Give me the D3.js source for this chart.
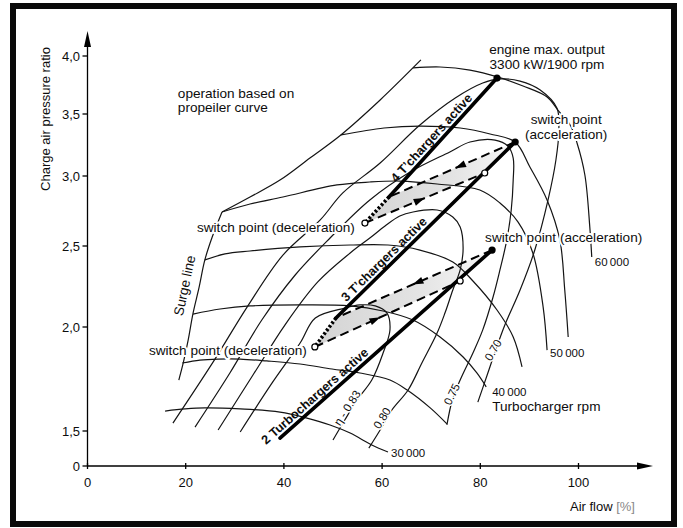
<!DOCTYPE html>
<html>
<head>
<meta charset="utf-8">
<script src="https://cdn.jsdelivr.net/npm/d3@7"></script>
<style>
  html, body { margin: 0; padding: 0; background: #fff; }
  svg { display: block; font-family: "Liberation Sans", Arial, Helvetica, sans-serif; }
</style>
</head>
<body>
<svg id="chart" width="683" height="528"></svg>
<script>
// values: [air flow %, charge air pressure ratio]
const xTicks = [0, 20, 40, 60, 80, 100];
const yTicks = [1.5, 2.0, 2.5, 3.0, 3.5, 4.0];

const speedRpm = [30000, 35000, 40000, 45000, 50000, 55000, 60000];
const speedLabelled = [30000, 40000, 50000, 60000];

const speed30 = [[15.8,1.596],[19.9,1.606],[23.9,1.611],[31.1,1.606],[39.2,1.591],[44.7,1.562],[49.4,1.529],[53.5,1.490],[57.9,1.433],[61.2,1.399]];
const speed35 = [[19.3,1.827],[22.9,1.841],[26.6,1.846],[31.1,1.846],[36.5,1.837],[43.3,1.822],[49.8,1.798],[55.5,1.779],[61.6,1.745],[65.1,1.697],[69.8,1.611],[73.2,1.534]];
const speed40 = [[21.5,2.080],[27.0,2.111],[33.1,2.130],[43.3,2.136],[53.5,2.130],[60.2,2.099],[66.3,2.043],[71.8,1.952],[76.5,1.856],[79.3,1.779],[81.2,1.712]];
const speed45 = [[23.9,2.414],[28.0,2.451],[33.1,2.469],[43.3,2.494],[53.5,2.507],[61.2,2.507],[67.7,2.475],[74.4,2.401],[78.5,2.284],[83.4,2.105],[86.7,1.952],[88.5,1.808]];
const speed50 = [[27.4,2.743],[33.1,2.800],[39.8,2.850],[50.8,2.936],[57.5,2.957],[63.6,2.964],[71.2,2.943],[79.9,2.900],[84.0,2.807],[87.7,2.671],[90.7,2.457],[92.8,2.123],[93.6,1.889]];
const speed55 = [[51.6,3.331],[60.4,3.387],[67.7,3.403],[75.9,3.387],[82.0,3.339],[87.1,3.274],[90.1,3.073],[93.6,2.829],[96.2,2.543],[97.2,2.228],[97.9,1.952]];
const speed60 = [[66.3,3.897],[71.8,3.905],[77.9,3.879],[83.6,3.819],[88.7,3.741],[93.6,3.647],[95.8,3.534],[98.3,3.411],[99.7,3.266],[101.3,3.008],[102.3,2.636],[102.7,2.432]];
const speedLines = [speed30, speed35, speed40, speed45, speed50, speed55, speed60];

const surgeLower = [[18.6,1.745],[19.5,1.827],[20.5,1.937],[21.5,2.086],[22.7,2.241],[23.9,2.414],[25.4,2.564],[27.4,2.743]];
const surgeUpper = [[27.4,2.743],[33.1,2.850],[39.2,2.971],[45.3,3.145],[51.6,3.331],[59.6,3.621],[67.9,3.966]];

const effValues = ["η - 0.83", "0.80", "0.75", "0.70"];
const eff83 = [[50.0,1.457],[52.4,1.553],[54.9,1.649],[57.9,1.745],[60.2,1.875],[61.6,1.986],[61.0,2.086],[58.6,2.130],[55.5,2.136],[52.4,2.117],[46.4,2.056],[43.3,1.923],[37.6,1.731],[31.1,1.495]];
const eff80 = [[57.3,1.418],[59.6,1.505],[62.0,1.601],[65.3,1.697],[68.1,1.827],[71.2,1.971],[72.8,2.086],[74.4,2.228],[75.9,2.352],[76.5,2.488],[75.9,2.636],[74.4,2.707],[71.2,2.757],[66.3,2.743],[63.6,2.714],[60.6,2.643],[57.5,2.557],[53.5,2.457],[46.9,2.278],[40.2,2.012],[33.7,1.769],[26.6,1.505]];
const eff75 = [[73.2,1.529],[74.3,1.649],[75.9,1.745],[78.5,1.875],[80.5,1.986],[82.6,2.185],[84.0,2.352],[85.4,2.543],[86.3,2.757],[86.7,2.971],[86.7,3.145],[85.6,3.242],[83.0,3.290],[77.9,3.274],[73.8,3.194],[65.7,3.032],[57.5,2.829],[49.4,2.557],[42.3,2.321],[35.5,2.043],[29.0,1.779],[21.9,1.519]];
const eff70 = [[79.5,1.639],[81.4,1.769],[83.0,1.880],[85.0,2.012],[88.1,2.228],[91.1,2.475],[93.8,2.829],[95.4,3.129],[96.0,3.371],[95.6,3.552],[92.2,3.707],[88.1,3.784],[84.0,3.802],[80.5,3.767],[74.9,3.638],[67.7,3.411],[59.6,3.105],[52.0,2.879],[47.4,2.686],[39.8,2.444],[32.5,2.123],[25.6,1.832],[17.4,1.538]];
const effLines = [eff83, eff80, eff75, eff70];

// operating points
const maxOutput = [83.4, 3.810];
const accel4 = [87.1, 3.274];
const accel3 = [82.4, 2.475];
const decel4 = [56.5, 2.664];
const decel3 = [46.3, 1.904];
const join4 = [61.4, 2.850];
const join3 = [50.6, 2.056];
const mid4 = [80.9, 3.024];
const mid3 = [75.9, 2.284];
const start2 = [39.2, 1.466];

// ---- layout ----
const svg = d3.select('#chart');
const x = d3.scaleLinear().domain([0, 100]).range([87.5, 578.5]);
const y = d3.scaleLinear().domain(yTicks).range([431, 327, 246, 176, 114, 56]);
const axisY = 466;
const ink = '#141414';
const locale = d3.formatLocale({ decimal: ',', thousands: '\u2009', grouping: [3], currency: ['', ''] });
const fmtTick = locale.format('.1f');
const fmtRpm = locale.format(',');

const px = d => [x(d[0]), y(d[1])];
const smooth = d3.line().x(d => x(d[0])).y(d => y(d[1])).curve(d3.curveCatmullRom.alpha(0.5));
const straight = d3.line().x(d => x(d[0])).y(d => y(d[1]));

// frame
svg.append('rect')
  .attr('x', 13).attr('y', 6).attr('width', 661).attr('height', 518)
  .attr('fill', 'none').attr('stroke', '#0a0a0a').attr('stroke-width', 6);

// grey lenses between the switch paths
const defs = svg.append('defs');
const grad = defs.append('linearGradient').attr('id', 'lens').attr('x1', '0').attr('x2', '1');
grad.append('stop').attr('offset', '0').attr('stop-color', '#d4d4d4');
grad.append('stop').attr('offset', '0.6').attr('stop-color', '#e4e4e4');
grad.append('stop').attr('offset', '1').attr('stop-color', '#f7f7f7');
[[accel4, join4, decel4, mid4], [accel3, join3, decel3, mid3]].forEach(poly => {
  svg.append('path')
    .attr('d', straight(poly) + 'Z')
    .attr('fill', 'url(#lens)');
});

// speed lines, surge line, efficiency contours
const gMap = svg.append('g').attr('fill', 'none').attr('stroke', ink).attr('stroke-width', 1.2);
speedLines.forEach(line => gMap.append('path').attr('d', smooth(line)));
gMap.append('path').attr('d', smooth(surgeLower));
gMap.append('path').attr('d', smooth(surgeUpper));
effLines.forEach(line => gMap.append('path').attr('d', smooth(line)));

// bold operating lines
const gOp = svg.append('g').attr('fill', 'none').attr('stroke', '#000').attr('stroke-linecap', 'round');
gOp.append('path').attr('d', straight([maxOutput, join4])).attr('stroke-width', 3.6);
gOp.append('path').attr('d', straight([accel4, join3])).attr('stroke-width', 3.6);
gOp.append('path').attr('d', straight([accel3, start2])).attr('stroke-width', 3.6);
gOp.append('path').attr('d', straight([join4, decel4])).attr('stroke-width', 3.6).attr('stroke-dasharray', '2.5,2').attr('stroke-linecap', 'butt');
gOp.append('path').attr('d', straight([join3, decel3])).attr('stroke-width', 3.6).attr('stroke-dasharray', '2.5,2').attr('stroke-linecap', 'butt');

// dashed switch paths with their arrows
const dashed = [[accel4, join4, 0.44], [decel4, mid4, 0.46], [accel3, join3, 0.48], [decel3, mid3, 0.42]];
dashed.forEach(([a, b, t]) => {
  gOp.append('path').attr('d', straight([a, b]))
    .attr('stroke-width', 2).attr('stroke-dasharray', '9,5').attr('stroke-linecap', 'butt');
  const [x1, y1] = px(a), [x2, y2] = px(b);
  const ang = Math.atan2(y2 - y1, x2 - x1) * 180 / Math.PI;
  svg.append('path')
    .attr('d', 'M5,0L-6,-3.6L-6,3.6Z')
    .attr('transform', `translate(${x1 + (x2 - x1) * t},${y1 + (y2 - y1) * t}) rotate(${ang})`)
    .attr('fill', '#000');
});

// points
[maxOutput, accel4, accel3].forEach(p => {
  svg.append('circle').attr('cx', x(p[0])).attr('cy', y(p[1])).attr('r', 3.6).attr('fill', '#000');
});
[decel4, decel3, mid4, mid3].forEach(p => {
  svg.append('circle').attr('cx', x(p[0])).attr('cy', y(p[1])).attr('r', 3)
    .attr('fill', '#fff').attr('stroke', '#000').attr('stroke-width', 1.2);
});

// text helpers
function label(txt, tx, ty, opts = {}) {
  const t = svg.append('text')
    .attr('x', tx).attr('y', ty)
    .attr('text-anchor', opts.anchor || 'start')
    .attr('font-size', opts.size || 13.6)
    .attr('font-weight', opts.weight || 'normal')
    .attr('fill', '#0d0d0d')
    .attr('stroke', '#fff').attr('stroke-width', opts.halo === undefined ? 4 : opts.halo)
    .attr('stroke-linejoin', 'round')
    .attr('paint-order', 'stroke')
    .text(txt);
  if (opts.rotate !== undefined) t.attr('transform', `rotate(${opts.rotate},${tx},${ty})`);
  return t;
}
function alongLine(txt, a, b, t, off, size) {
  const [x1, y1] = px(a), [x2, y2] = px(b);
  const ang = Math.atan2(y2 - y1, x2 - x1) * 180 / Math.PI;
  svg.append('text')
    .attr('transform', `translate(${x1 + (x2 - x1) * t},${y1 + (y2 - y1) * t}) rotate(${ang})`)
    .attr('y', -off)
    .attr('text-anchor', 'middle')
    .attr('font-size', size)
    .attr('font-weight', 'bold')
    .attr('fill', '#0d0d0d')
    .text(txt);
}

// annotations
label('engine max. output', x(maxOutput[0]) + 50, y(maxOutput[1]) - 24, { anchor: 'middle' });
label('3300 kW/1900 rpm', x(maxOutput[0]) + 50, y(maxOutput[1]) - 9, { anchor: 'middle' });
label('switch point', x(accel4[0]) + 51, y(accel4[1]) - 18, { anchor: 'middle' });
label('(acceleration)', x(accel4[0]) + 51, y(accel4[1]) - 3, { anchor: 'middle' });
label('switch point (acceleration)', x(accel3[0]) - 7, y(accel3[1]) - 8);
label('switch point (deceleration)', x(decel4[0]) - 10, y(decel4[1]) + 9, { anchor: 'end' });
label('switch point (deceleration)', x(decel3[0]) - 8, y(decel3[1]) + 8, { anchor: 'end' });
label('operation based on', x(18.4), y(3.64), { halo: 0 });
label('propeiler curve', x(18.4), y(3.64) + 14, { halo: 0 });

alongLine('4 T\u2019chargers active', join4, maxOutput, 0.45, 4, 12.6);
alongLine('3 T\u2019chargers active', join3, accel4, 0.3, 4, 12.6);
alongLine('2 Turbochargers active', start2, accel3, 0.19, 4, 12.6);

label('Surge line', x(20.7), y(2.25), { anchor: 'middle', rotate: -78, size: 13.6, halo: 0 });

// speed labels at line ends
const speedOffsets = { 30000: [3, 5], 40000: [6, 9], 50000: [3, 7], 60000: [3, 9] };
speedRpm.forEach((rpm, i) => {
  if (!speedLabelled.includes(rpm)) return;
  const end = speedLines[i][speedLines[i].length - 1];
  const [dx, dy] = speedOffsets[rpm];
  label(fmtRpm(rpm), x(end[0]) + dx, y(end[1]) + dy, { size: 11.5, halo: 3 });
});
{
  const end = speed40[speed40.length - 1];
  label('Turbocharger rpm', x(end[0]) + 6, y(end[1]) + 24, { halo: 3 });
}

// efficiency labels
const effPos = [[52.9, 1.611, -57], [60.0, 1.562, -58], [74.2, 1.677, -64], [82.6, 1.889, -60]];
effValues.forEach((v, i) => {
  const [ex, ep, rot] = effPos[i];
  label(v, x(ex), y(ep), { anchor: 'middle', size: 11.5, rotate: rot, halo: 3 }).attr('dy', '0.35em');
});

// axes
const gAx = svg.append('g').attr('stroke', '#000').attr('stroke-width', 1.3);
gAx.append('line').attr('x1', x(0)).attr('x2', 645).attr('y1', axisY).attr('y2', axisY);
gAx.append('line').attr('x1', x(0)).attr('x2', x(0)).attr('y1', axisY).attr('y2', 40);
svg.append('path').attr('d', `M${x(0)},31L${x(0) - 3.5},47L${x(0) + 3.5},47Z`).attr('fill', '#000');
svg.append('path').attr('d', `M653,${axisY}L637,${axisY - 3.5}L637,${axisY + 3.5}Z`).attr('fill', '#000');

yTicks.forEach(v => {
  gAx.append('line').attr('x1', x(0) - 5).attr('x2', x(0)).attr('y1', y(v)).attr('y2', y(v));
  svg.append('text').attr('x', 80).attr('y', y(v)).attr('dy', '0.36em')
    .attr('text-anchor', 'end').attr('font-size', 13).attr('fill', '#0d0d0d').text(fmtTick(v));
});
gAx.append('line').attr('x1', x(0) - 5).attr('x2', x(0)).attr('y1', axisY).attr('y2', axisY);
svg.append('text').attr('x', 80).attr('y', axisY).attr('dy', '0.36em')
  .attr('text-anchor', 'end').attr('font-size', 13).attr('fill', '#0d0d0d').text('0');

xTicks.forEach(v => {
  gAx.append('line').attr('x1', x(v)).attr('x2', x(v)).attr('y1', axisY - 3).attr('y2', axisY + 3);
  svg.append('text').attr('x', x(v)).attr('y', 487)
    .attr('text-anchor', 'middle').attr('font-size', 13).attr('fill', '#0d0d0d').text(v);
});

svg.append('text')
  .attr('transform', `translate(50,119) rotate(-90)`)
  .attr('text-anchor', 'middle').attr('font-size', 13).attr('fill', '#0d0d0d')
  .text('Charge air pressure ratio');

const xt = svg.append('text').attr('x', 635).attr('y', 511)
  .attr('text-anchor', 'end').attr('font-size', 13).attr('fill', '#0d0d0d');
xt.append('tspan').text('Air flow ');
xt.append('tspan').attr('fill', '#888').text('[%]');
</script>
</body>
</html>
